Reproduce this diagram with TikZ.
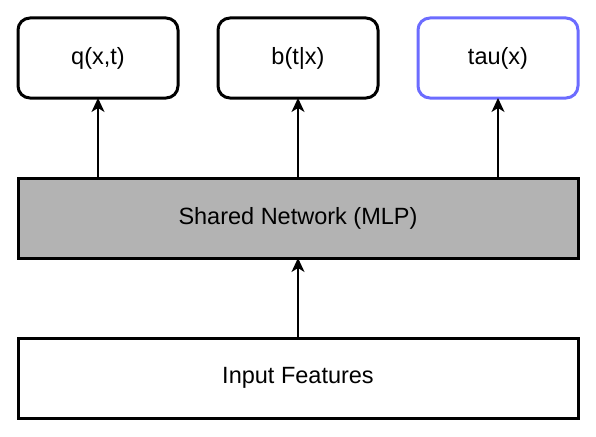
\documentclass[tikz,border=0pt]{standalone}
\usepackage{fontspec}
\setmainfont{Liberation Sans}
\usetikzlibrary{positioning,arrows.meta}
\definecolor{netgray}{HTML}{B3B3B3}
\definecolor{taublue}{HTML}{6C6CFF}

\begin{document}
\begin{tikzpicture}[x=1pt,y=1pt]
\tikzstyle{block}=[rectangle, draw=black, line width=3pt, minimum height=80pt, inner sep=0pt, outer sep=0pt, font=\fontsize{23.5}{28}\selectfont, node distance=80pt]
\tikzstyle{head}=[block, rounded corners=12pt, minimum width=160pt]
\tikzstyle{connect}=[-{Stealth[length=14pt,width=13pt,inset=4pt]}, line width=1.5pt]
  \useasboundingbox (0,0) rectangle (596,-436);
  % input
  \node[block, minimum width=560pt] (input) at (298,-378) {Input Features};
  % shared
  \node[block, minimum width=560pt, fill=netgray] (shared) [above=of input] {Shared Network (MLP)};
  % q
  \node[head] (q) [above right=80pt and 0pt of shared.north west] {q(x,t)};
  % b
  \node[head] (b) [above=of shared] {b(t|x)};
  % tau
  \node[head, draw=taublue] (tau) [above left=80pt and 0pt of shared.north east] {tau(x)};
  \path (input) edge [connect] (shared)
        (shared.north -| q) edge [connect] (q)
        (shared) edge [connect] (b)
        (shared.north -| tau) edge [connect] (tau);
\end{tikzpicture}
\end{document}
